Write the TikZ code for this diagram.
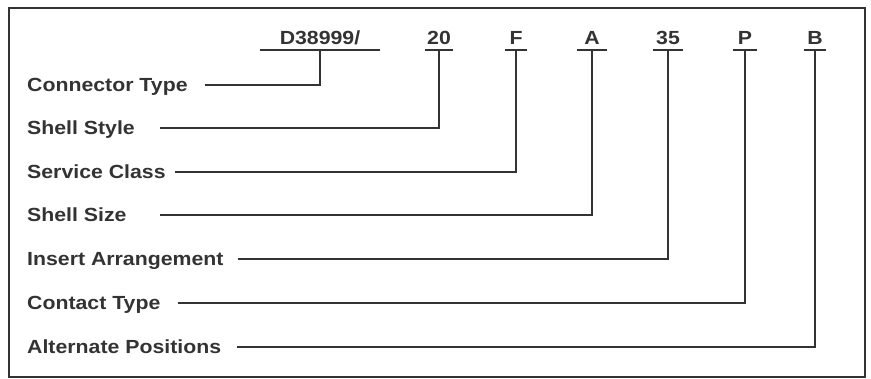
\documentclass[tikz,border=0pt]{standalone}
\usepackage{fontspec}
\usepackage{tikz}
\newfontfamily\partfont{Liberation Sans}[FakeStretch=1.12]

\tikzset{
  codetext/.style={font=\partfont\bfseries\fontsize{19}{23}\selectfont, text=black!80,
    text height=13.8pt, text depth=0pt, inner xsep=0pt, inner ysep=5pt, anchor=south},
  labeltext/.style={font=\partfont\bfseries\fontsize{19}{23}\selectfont, text=black!80,
    text height=13.8pt, text depth=0pt, inner sep=0pt, anchor=west},
  partline/.style={line width=1.8pt, black!80},
  frame/.style={line width=2pt, black!80}
}

\begin{document}
\begin{tikzpicture}[x=1pt, y=-1pt]
        \useasboundingbox (0,0) rectangle (871,379);
        % Khung
        \draw[frame] (9,8) rectangle (865,377);

        % Ma so va gach chan
        \foreach \name/\code/\cx/\w in {conn/{D38999/}/320/120, style/20/439/28, class/F/516/22,
                size/A/592/30, insert/35/668/30, contact/P/745/23, alt/B/815/22}
        {
            \node[codetext, minimum width=\w pt] (\name) at (\cx,50) {\code};
            \draw[partline] (\name.south west) -- (\name.south east);
        }

        % Nhan va duong noi
        \foreach \name/\txt/\y/\gap in {conn/Connector Type/85/17, style/Shell Style/128/25,
                class/Service Class/172/9, size/Shell Size/215/33, insert/Insert Arrangement/259/14,
                contact/Contact Type/303/17, alt/Alternate Positions/347/16}
        {
            \node[labeltext] (l\name) at (27,\y) {\txt};
            \draw[partline] ([xshift=\gap pt]l\name.east) -| (\name.south);
        }
    \end{tikzpicture}
\end{document}
